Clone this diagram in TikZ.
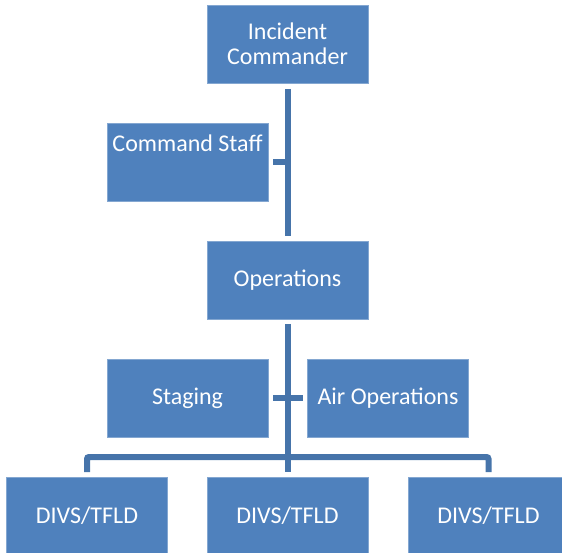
\documentclass[tikz,border=0pt]{standalone}
\usepackage{fontspec}
\setmainfont{Carlito}
\definecolor{boxblue}{RGB}{79,129,189}
\definecolor{lineblue}{RGB}{70,116,170}

\begin{document}
\begin{tikzpicture}[
    x=1pt, y=1pt,
    unit/.style={rectangle, draw=boxblue!70!white, line width=0.6pt, fill=boxblue,
        minimum width=161pt, minimum height=78pt, inner sep=2pt, outer sep=0pt,
        text=white, align=center, font=\fontsize{24}{25}\selectfont},
    link/.style={draw=lineblue, line width=6pt}
]
    \useasboundingbox (0,0) rectangle (562,552);
    \node[unit] (ic) at (287.5,508) {Incident\\Commander};
    \node[unit, label={[anchor=center, label distance=-20pt, text=white,
        font=\fontsize{24}{25}\selectfont]north:Command Staff}] (cs) at (187.5,390) {};
    \node[unit] (ops) at (287.5,272) {Operations};
    \node[unit] (st) at (187.5,154) {Staging};
    \node[unit] (ao) at (388,154) {Air Operations};
    \node[unit] (d1) at (87,36) {DIVS/TFLD};
    \node[unit] (d2) at (287.5,36) {DIVS/TFLD};
    \node[unit] (d3) at (488.5,36) {DIVS/TFLD};
    \draw[link, shorten <=6pt, shorten >=5pt] (ic) -- (ops);
    \draw[link, shorten <=5pt] (cs.east) -- (cs.east -| ic.south);
    \draw[link, shorten <=5pt, shorten >=5pt] (ops) -- (d2);
    \draw[link, shorten <=5pt, shorten >=5pt] (st) -- (ao);
    \draw[link, rounded corners=2pt] ([yshift=5pt]d1.north) |- ([yshift=20pt]d3.north)
        -- ([yshift=5pt]d3.north);
\end{tikzpicture}
\end{document}
